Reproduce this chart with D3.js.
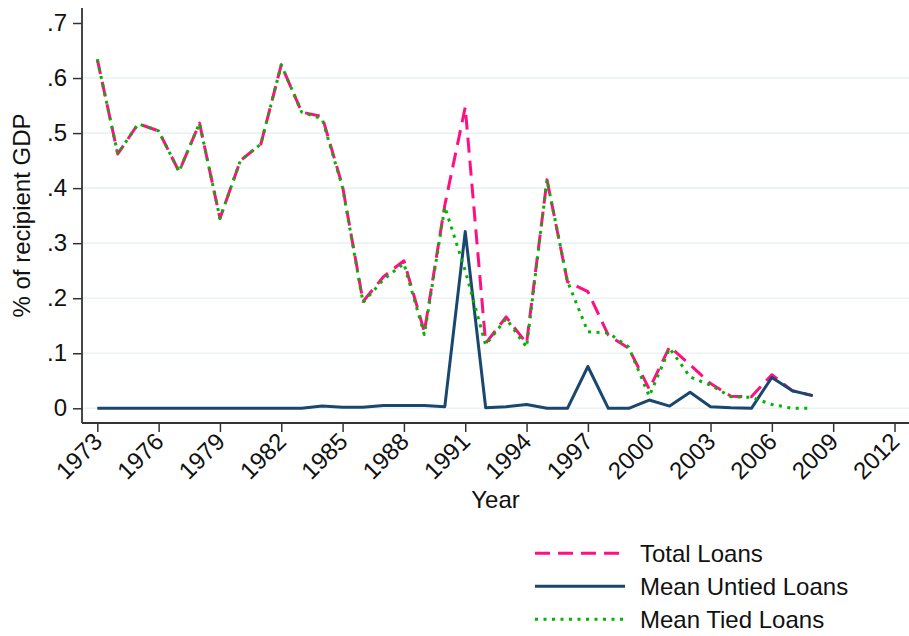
<!DOCTYPE html>
<html>
<head>
<meta charset="utf-8">
<script src="https://cdn.jsdelivr.net/npm/d3@7"></script>
<style>
  body { margin: 0; background: #fff; }
  svg text { font-family: "Liberation Sans", Arial, sans-serif; fill: #111; }
</style>
</head>
<body>
<div id="chart"></div>
<script>
// years 1973..2008
const years = d3.range(1973, 2009);

const totalLoans = [0.634, 0.462, 0.517, 0.504, 0.430, 0.518, 0.345, 0.450, 0.480, 0.624,
    0.538, 0.530, 0.403, 0.194, 0.239, 0.268, 0.139, 0.369, 0.547, 0.118,
    0.166, 0.118, 0.415, 0.230, 0.212, 0.133, 0.109, 0.035, 0.112, 0.079,
    0.045, 0.022, 0.021, 0.061, 0.032, 0.023];

const untiedLoans = [0, 0, 0, 0, 0, 0, 0, 0, 0, 0,
    0, 0.004, 0.002, 0.002, 0.005, 0.005, 0.005, 0.003, 0.321, 0.001,
    0.003, 0.007, 0, 0, 0.076, 0, 0, 0.015, 0.004, 0.029,
    0.003, 0.001, 0, 0.056, 0.032, 0.023];

const tiedLoans = [0.634, 0.462, 0.517, 0.504, 0.430, 0.518, 0.345, 0.450, 0.480, 0.624,
    0.538, 0.526, 0.401, 0.192, 0.234, 0.263, 0.134, 0.366, 0.250, 0.115,
    0.163, 0.111, 0.415, 0.231, 0.139, 0.137, 0.111, 0.022, 0.109, 0.057,
    0.042, 0.021, 0.020, 0.007, 0.000, 0.000];

const yTicks = [0, 0.1, 0.2, 0.3, 0.4, 0.5, 0.6, 0.7];
const xTicks = d3.range(1973, 2013, 3);

const series = [
    {name: "Total Loans", values: totalLoans, color: "#ff0f82", dash: "15,8"},
    {name: "Mean Untied Loans", values: untiedLoans, color: "#1a476f", dash: null},
    {name: "Mean Tied Loans", values: tiedLoans, color: "#00b400", dash: "3,5.5"}
];

const width = 909, height = 636;
const plot = {left: 82, right: 909, top: 8, bottom: 423};
const fontSize = 24;

const svg = d3.select("#chart").append("svg")
    .attr("width", width)
    .attr("height", height);

const x = d3.scaleLinear().domain([1973, 2012]).range([97.3, 894.5]);
const y = d3.scaleLinear().domain([0, 0.7]).range([408.3, 23]);

// gridlines (no line at the top tick)
svg.append("g").selectAll("line")
    .data(yTicks.filter(d => d < 0.7))
    .enter().append("line")
    .attr("x1", plot.left).attr("x2", plot.right)
    .attr("y1", d => y(d)).attr("y2", d => y(d))
    .attr("stroke", "#eaf2f3")
    .attr("stroke-width", 1.6);

// y axis
const yAxis = d3.axisLeft(y)
    .tickValues(yTicks)
    .tickSize(9)
    .tickPadding(6)
    .tickFormat(d => d === 0 ? "0" : d3.format(".1f")(d).replace("0.", "."));

const gy = svg.append("g")
    .attr("transform", `translate(${plot.left},0)`)
    .call(yAxis);
gy.select(".domain").remove();
gy.selectAll("line").attr("stroke", "#333").attr("stroke-width", 1.5);
gy.selectAll("text").attr("font-size", fontSize).attr("fill", "#111");

svg.append("line")
    .attr("x1", plot.left).attr("x2", plot.left)
    .attr("y1", plot.top).attr("y2", plot.bottom)
    .attr("stroke", "#333").attr("stroke-width", 1.8);

// x axis
const xAxis = d3.axisBottom(x)
    .tickValues(xTicks)
    .tickSize(9)
    .tickFormat(d3.format("d"));

const gx = svg.append("g")
    .attr("transform", `translate(0,${plot.bottom})`)
    .call(xAxis);
gx.select(".domain").remove();
gx.selectAll("line").attr("stroke", "#333").attr("stroke-width", 1.5);
gx.selectAll("text")
    .attr("font-size", fontSize)
    .attr("fill", "#111")
    .attr("text-anchor", "end")
    .attr("x", 0).attr("y", 0).attr("dy", 0)
    .attr("transform", "translate(6,20) rotate(-45)");

svg.append("line")
    .attr("x1", plot.left).attr("x2", plot.right)
    .attr("y1", plot.bottom).attr("y2", plot.bottom)
    .attr("stroke", "#333").attr("stroke-width", 1.8);

// axis titles
svg.append("text")
    .attr("transform", `translate(30,${(plot.top + plot.bottom) / 2}) rotate(-90)`)
    .attr("text-anchor", "middle")
    .attr("font-size", fontSize)
    .text("% of recipient GDP");

svg.append("text")
    .attr("x", (plot.left + plot.right) / 2)
    .attr("y", 508)
    .attr("text-anchor", "middle")
    .attr("font-size", fontSize)
    .text("Year");

// lines
const line = d3.line()
    .x((d, i) => x(years[i]))
    .y(d => y(d));

svg.append("g").selectAll("path")
    .data(series)
    .enter().append("path")
    .attr("d", d => line(d.values))
    .attr("fill", "none")
    .attr("stroke", d => d.color)
    .attr("stroke-width", 3)
    .attr("stroke-dasharray", d => d.dash)
    .attr("stroke-linejoin", "round");

// legend
const legend = svg.append("g").selectAll("g")
    .data(series)
    .enter().append("g")
    .attr("transform", (d, i) => `translate(535,${553.3 + i * 33})`);

legend.append("line")
    .attr("x1", 0).attr("x2", 90)
    .attr("stroke", d => d.color)
    .attr("stroke-width", 3)
    .attr("stroke-dasharray", d => d.dash);

legend.append("text")
    .attr("x", 105)
    .attr("dy", "0.35em")
    .attr("font-size", fontSize)
    .text(d => d.name);
</script>
</body>
</html>
